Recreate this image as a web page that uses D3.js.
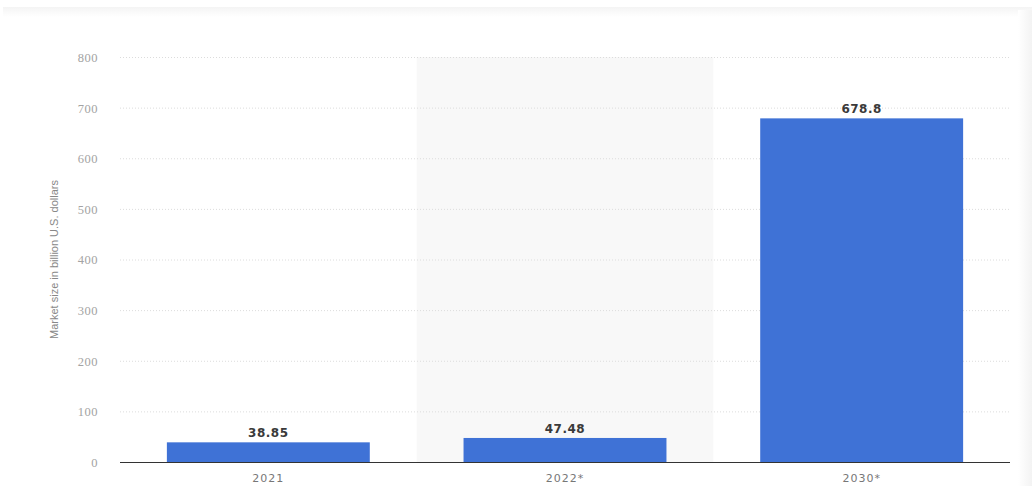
<!DOCTYPE html>
<html><head><meta charset="utf-8">
<script src="https://cdn.jsdelivr.net/npm/d3@7"></script>
<style>body{margin:0;background:#fff;}svg{display:block;}</style>
</head><body>
<svg id="c" width="1032" height="486"></svg>
<script>
const categories = ["2021", "2022*", "2030*"];
const values = [38.85, 47.48, 678.8];
const valueLabels = ["38.85", "47.48", "678.8"];
const yTicks = [0, 100, 200, 300, 400, 500, 600, 700, 800];
const highlighted = "2022*";
const yTitle = "Market size in billion U.S. dollars";

const svg = d3.select("#c");
const W = 1032, H = 486;
const m = {left: 120, right: 22, top: 57, bottom: 24};
const x = d3.scaleBand().domain(categories).range([m.left, W - m.right]).paddingInner(0.316).paddingOuter(0.158);
const y = d3.scaleLinear().domain([0, 800]).range([H - m.bottom, m.top]);

// top shadow strip
const defs = svg.append("defs");
const g1 = defs.append("linearGradient").attr("id","sh").attr("x1",0).attr("y1",0).attr("x2",0).attr("y2",1);
g1.append("stop").attr("offset","0%").attr("stop-color","#f4f4f4");
g1.append("stop").attr("offset","100%").attr("stop-color","#ffffff");
svg.append("rect").attr("x",3).attr("y",7).attr("width",W-3).attr("height",10).attr("fill","url(#sh)");
const g2 = defs.append("linearGradient").attr("id","sr").attr("x1",0).attr("y1",0).attr("x2",1).attr("y2",0);
g2.append("stop").attr("offset","0%").attr("stop-color","#ffffff");
g2.append("stop").attr("offset","100%").attr("stop-color","#f3f3f3");
svg.append("rect").attr("x",1018).attr("y",10).attr("width",14).attr("height",H-10).attr("fill","url(#sr)");

// highlight band
const step = x.step();
svg.append("rect")
  .attr("x", x(highlighted) + x.bandwidth()/2 - step/2)
  .attr("y", y(800))
  .attr("width", step)
  .attr("height", y(0) - y(800))
  .attr("fill", "#f8f8f8");

// grid
svg.append("g").selectAll("line").data(yTicks.filter(d => d > 0)).join("line")
  .attr("x1", m.left).attr("x2", W - m.right)
  .attr("y1", d => y(d) + 0.5).attr("y2", d => y(d) + 0.5)
  .attr("stroke", "#dcdcdc").attr("stroke-dasharray", "1,2");

// y axis labels
const ya = svg.append("g").attr("transform", `translate(${m.left - 22},0)`)
  .call(d3.axisLeft(y).tickValues(yTicks).tickSize(0).tickPadding(0));
ya.select(".domain").remove();
ya.selectAll("text").attr("fill", "#a3a3a3").attr("font-family", "'Liberation Serif', serif").attr("font-size", "12.5px").attr("dy","0.35em").attr("letter-spacing","0.5");

// y title
svg.append("text")
  .attr("transform", `translate(58,${(y(800)+y(0))/2}) rotate(-90)`)
  .attr("text-anchor", "middle")
  .attr("fill", "#888")
  .attr("font-family", "'Liberation Sans Narrow', 'Liberation Sans', sans-serif")
  .attr("font-size", "11px")
  .text(yTitle);

// bars
const data = categories.map((c, i) => ({c, v: values[i], l: valueLabels[i]}));
svg.append("g").selectAll("rect").data(data).join("rect")
  .attr("x", d => x(d.c)).attr("width", x.bandwidth())
  .attr("y", d => y(d.v)).attr("height", d => y(0) - y(d.v))
  .attr("fill", "#3f72d6");

// value labels
svg.append("g").selectAll("text").data(data).join("text")
  .attr("x", d => x(d.c) + x.bandwidth()/2)
  .attr("y", d => y(d.v) - 5)
  .attr("text-anchor", "middle")
  .attr("fill", "#3a3a3a")
  .attr("font-family", "'DejaVu Sans', sans-serif")
  .attr("font-size", "12px")
  .attr("font-weight", "600")
  .attr("letter-spacing", "0.5")
  .text(d => d.l);

// x axis
const xa = svg.append("g").attr("transform", `translate(0,${y(0)})`)
  .call(d3.axisBottom(x).tickSize(0).tickPadding(12));
xa.select(".domain").attr("stroke", "#333").attr("stroke-width", 1.2).attr("d", `M${m.left},0.5H${W - m.right}`);
xa.selectAll("text").attr("fill", "#777").attr("font-family", "'DejaVu Sans', sans-serif").attr("font-size", "11px").attr("letter-spacing","1");
</script>
</body></html>
